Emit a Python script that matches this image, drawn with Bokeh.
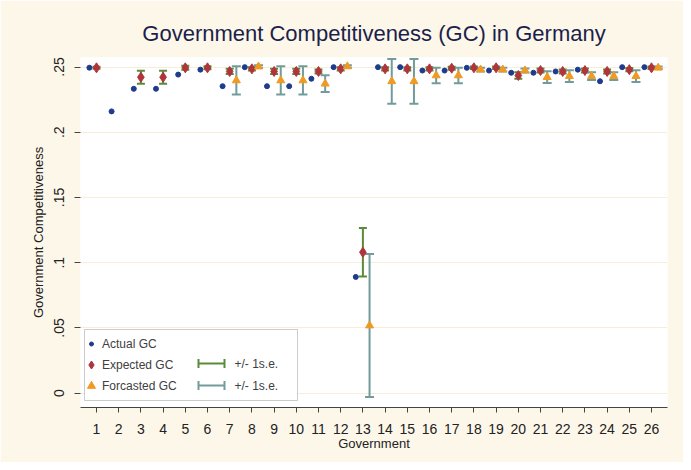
import math
from bokeh.plotting import figure
from bokeh.models import (Whisker, TeeHead, ColumnDataSource, Legend, LegendItem,
                          Label, BoxAnnotation, FixedTicker, Range1d, Arrow)
from bokeh.embed import file_html
from bokeh.resources import INLINE

nan = float("nan")

# ---- data ----
government = list(range(1, 27))
actual_gc = [0.2495, 0.216, 0.2333, 0.2333, 0.2442, 0.248, 0.2353, 0.2499, 0.2353, 0.2353,
             0.241, 0.2499, 0.0891, 0.2499, 0.2499, 0.2473, 0.2473, 0.2494, 0.2473, 0.2456,
             0.2456, 0.2466, 0.248, 0.2391, 0.2499, 0.2499]
expected_gc = [0.2494, nan, 0.2422, 0.2422, 0.2494, 0.2494, 0.2466, 0.2486, 0.2466, 0.2466,
               0.2466, 0.2486, 0.108, 0.2486, 0.2486, 0.2486, 0.2491, 0.2494, 0.2494, 0.2435,
               0.2473, 0.2466, 0.2473, 0.2466, 0.248, 0.2494]
expected_se = [0.0008, nan, 0.005, 0.005, 0.0015, 0.0012, 0.002, 0.0012, 0.002, 0.002,
               0.0015, 0.0012, 0.0186, 0.0012, 0.0012, 0.0012, 0.0012, 0.001, 0.001, 0.0025,
               0.0015, 0.0015, 0.0015, 0.0015, 0.0012, 0.001]
forecast_gc = [nan, nan, nan, nan, nan, nan, 0.2397, 0.2503, 0.2397, 0.2397,
               0.2372, 0.2504, 0.0518, 0.239, 0.239, 0.2435, 0.2435, 0.248, 0.248, 0.2473,
               0.2422, 0.243, 0.243, 0.243, 0.243, 0.2494]
forecast_se = [nan, nan, nan, nan, nan, nan, 0.0108, 0.001, 0.0108, 0.0108,
               0.0064, 0.001, 0.0548, 0.0172, 0.0172, 0.006, 0.006, 0.0015, 0.0015, 0.0015,
               0.0045, 0.0045, 0.003, 0.003, 0.0045, 0.001]
y_ticks = [0, 0.05, 0.1, 0.15, 0.2, 0.25]
y_tick_labels = ["0", ".05", ".1", ".15", ".2", ".25"]

# ---- styles ----
ACT_OFF, FC_OFF = -0.32, 0.3
BLUE, RED, ORANGE = "#1f3b8c", "#b0353b", "#f09a22"
GREEN, TEAL = "#5a8b3a", "#729c9c"
CREAM = "#fdf7ea"
FONT = "Liberation Sans"


def valid(xs, ys, ses=None):
    out = {"x": [], "y": []}
    if ses is not None:
        out["lo"] = []
        out["hi"] = []
    for i, (x, y) in enumerate(zip(xs, ys)):
        if math.isnan(y):
            continue
        out["x"].append(x)
        out["y"].append(y)
        if ses is not None:
            out["lo"].append(y - ses[i])
            out["hi"].append(y + ses[i])
    return ColumnDataSource(out)


src_act = valid([g + ACT_OFF for g in government], actual_gc)
src_exp = valid(government, expected_gc, expected_se)
src_fc = valid([g + FC_OFF for g in government], forecast_gc, forecast_se)

p = figure(width=683, height=462, output_backend="svg", toolbar_location=None,
           x_range=Range1d(0.28, 26.72), y_range=Range1d(-0.011, 0.2573),
           min_border_left=80, min_border_right=16, min_border_top=57, min_border_bottom=55)
p.border_fill_color = CREAM
p.background_fill_color = "white"
p.outline_line_color = None

p.title.text = "Government Competitiveness (GC) in Germany"
p.title.align = "center"
p.title.text_font = FONT
p.title.text_font_size = "22px"
p.title.text_font_style = "normal"
p.title.text_color = "#1c1f4a"
p.title.standoff = 24

# axes
p.xaxis.ticker = FixedTicker(ticks=government)
p.xaxis.axis_label = "Government"
p.xaxis.axis_label_text_font = FONT
p.xaxis.axis_label_text_font_size = "13px"
p.xaxis.axis_label_text_font_style = "normal"
p.xaxis.axis_label_text_color = "#222222"
p.xaxis.axis_label_standoff = -1
p.xaxis.major_label_text_font = FONT
p.xaxis.major_label_text_font_size = "14px"
p.xaxis.major_label_text_color = "#222222"
p.xaxis.major_label_standoff = 11
p.xaxis.axis_line_color = "#444444"
p.xaxis.major_tick_line_color = "#444444"
p.xaxis.major_tick_out = 5
p.xaxis.major_tick_in = 0
p.xaxis.minor_tick_line_color = None

p.yaxis.ticker = FixedTicker(ticks=y_ticks)
p.yaxis.major_label_overrides = {t: l for t, l in zip(y_ticks, y_tick_labels)}
p.yaxis.major_label_orientation = "vertical"
p.yaxis.axis_label = "Government Competitiveness"
p.yaxis.axis_label_text_font = FONT
p.yaxis.axis_label_text_font_size = "13px"
p.yaxis.axis_label_text_font_style = "normal"
p.yaxis.axis_label_text_color = "#222222"
p.yaxis.axis_label_standoff = 6
p.yaxis.major_label_text_font = FONT
p.yaxis.major_label_text_font_size = "14px"
p.yaxis.major_label_text_color = "#222222"
p.yaxis.major_label_standoff = 10
p.yaxis.axis_line_color = None
p.yaxis.major_tick_line_color = "#444444"
p.yaxis.major_tick_out = 6
p.yaxis.major_tick_in = 0
p.yaxis.minor_tick_line_color = None

p.xgrid.grid_line_color = None
p.ygrid.grid_line_color = "#f6eed8"
p.ygrid.grid_line_width = 1

# expected GC error bars + markers
p.add_layout(Whisker(source=src_exp, base="x", lower="lo", upper="hi", line_color=GREEN, line_width=2,
                     lower_head=TeeHead(size=8, line_color=GREEN, line_width=2),
                     upper_head=TeeHead(size=8, line_color=GREEN, line_width=2)))
r_exp = p.scatter("x", "y", source=src_exp, marker="diamond", size=10, fill_color=RED,
                  line_color=RED, line_width=1)
# forecast error bars + markers
p.add_layout(Whisker(source=src_fc, base="x", lower="lo", upper="hi", line_color=TEAL, line_width=2,
                     lower_head=TeeHead(size=9, line_color=TEAL, line_width=2),
                     upper_head=TeeHead(size=9, line_color=TEAL, line_width=2)))
r_fc = p.scatter("x", "y", source=src_fc, marker="triangle", size=8, fill_color=ORANGE,
                 line_color=ORANGE)
# actual
r_act = p.scatter("x", "y", source=src_act, marker="circle", size=5, fill_color=BLUE,
                  line_color=BLUE)

# ---- legend ----
box = BoxAnnotation(left=4, right=217, bottom=7, top=78,
                    left_units="screen", right_units="screen", bottom_units="screen", top_units="screen",
                    fill_color="white", fill_alpha=1, line_color="#555555", line_width=1)
p.add_layout(box)

common = dict(padding=0, margin=0, spacing=0, label_height=21, glyph_height=21,
              label_text_font=FONT, label_text_font_size="12px", label_text_color="#404040",
              border_line_color=None, background_fill_alpha=0)
leg_act = Legend(items=[LegendItem(label="Actual GC", renderers=[r_act])],
                 location=(6, 53), glyph_width=10, label_standoff=6, **common)
leg_rest = Legend(items=[LegendItem(label="Expected GC", renderers=[r_exp]),
                         LegendItem(label="Forcasted GC", renderers=[r_fc])],
                  location=(1, 11), glyph_width=20, label_standoff=1, **common)
p.add_layout(leg_act, "center")
p.add_layout(leg_rest, "center")

for yy, col in [(44, GREEN), (22, TEAL)]:
    p.add_layout(Arrow(x_start=118, y_start=yy, x_end=144, y_end=yy,
                       start_units="screen", end_units="screen",
                       line_color=col, line_width=2,
                       start=TeeHead(size=9, line_color=col, line_width=2),
                       end=TeeHead(size=9, line_color=col, line_width=2)))
    p.add_layout(Label(x=154, y=yy, x_units="screen", y_units="screen", text="+/- 1s.e.",
                       text_font=FONT, text_font_size="12px", text_color="#404040",
                       text_baseline="middle"))

open("out.html", "w").write(file_html(p, INLINE))
